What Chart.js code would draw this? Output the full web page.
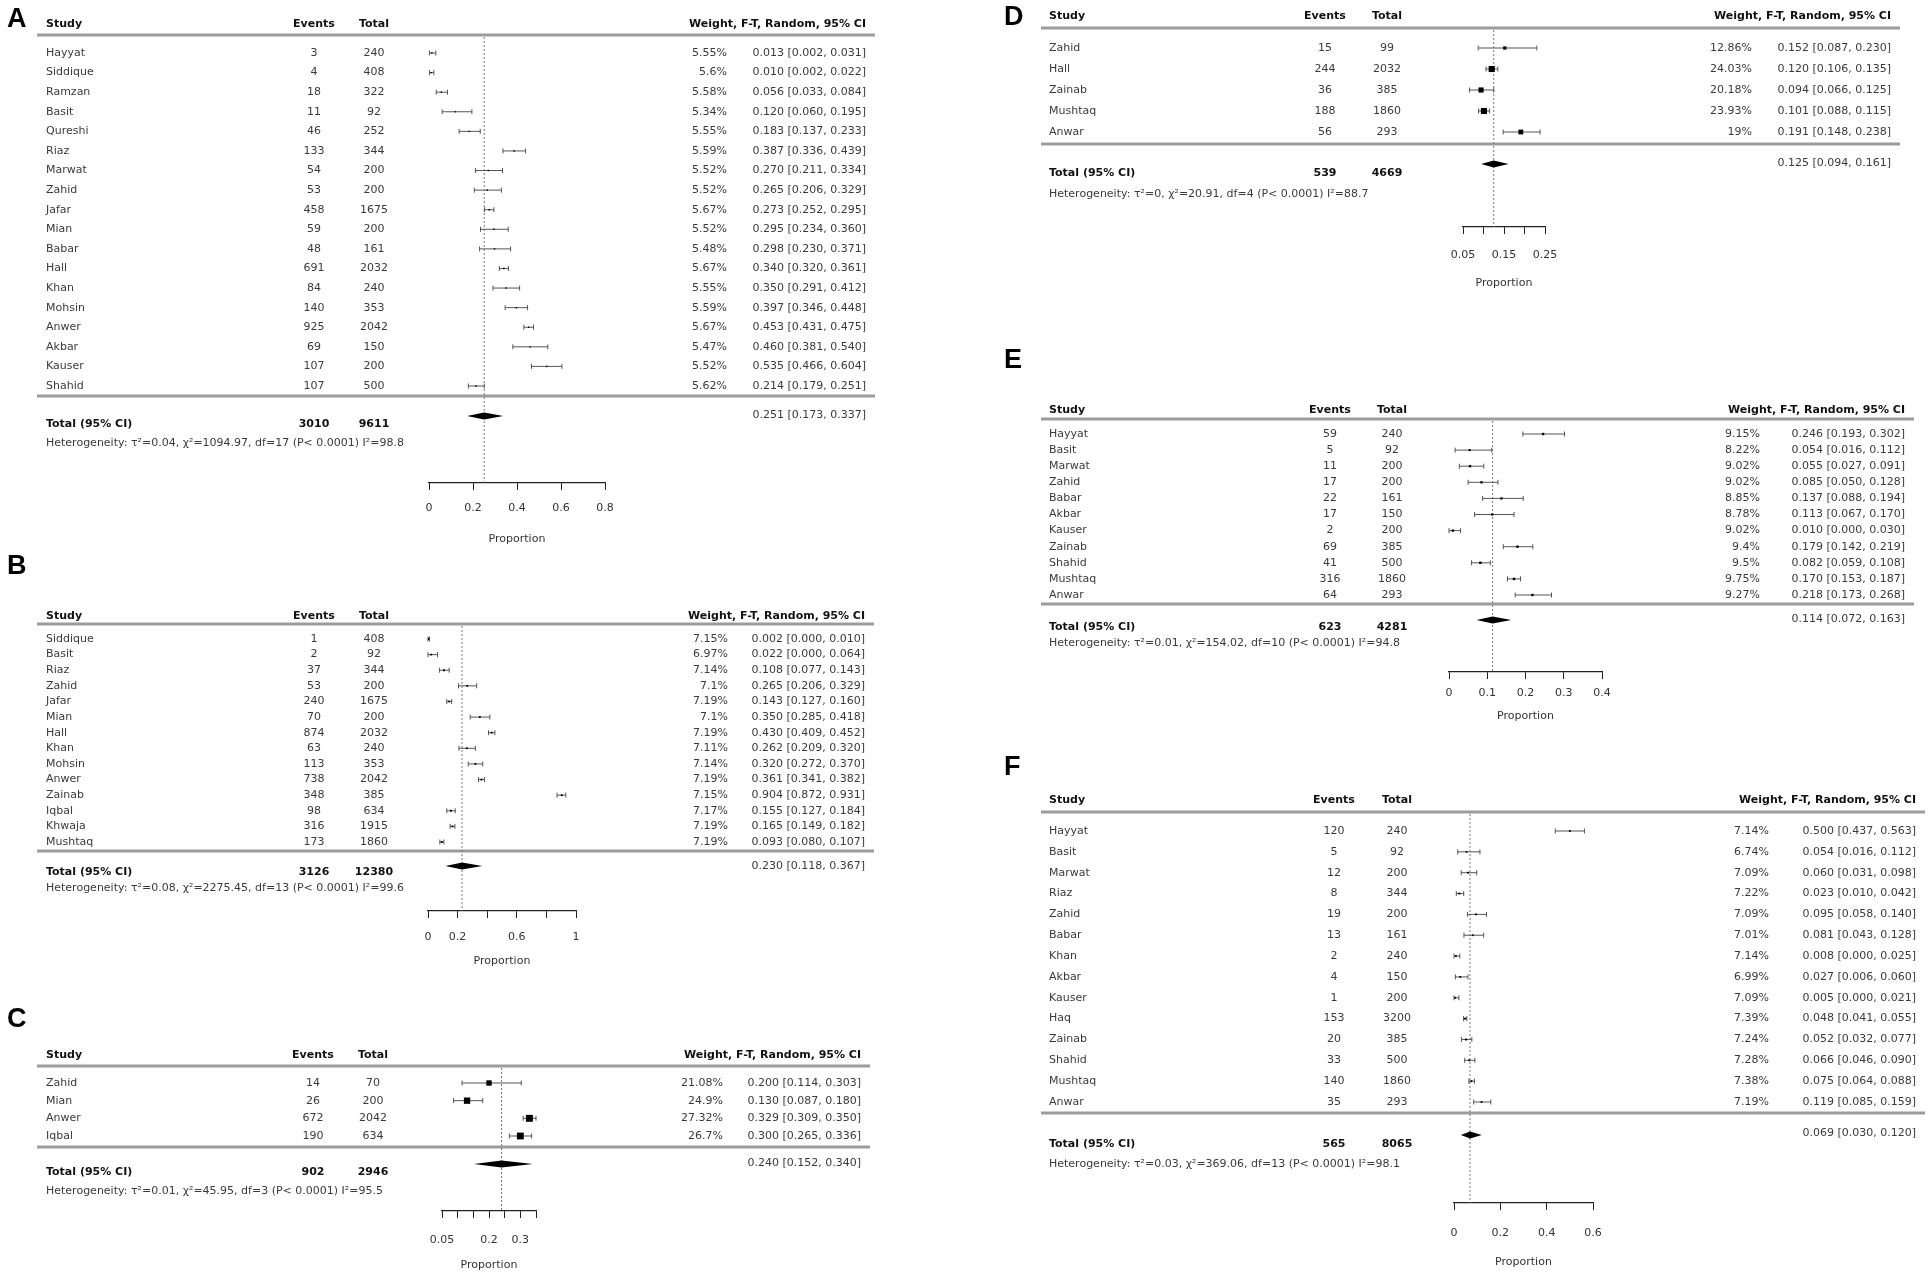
<!DOCTYPE html>
<html>
<head>
<meta charset="utf-8">
<script src="https://cdn.jsdelivr.net/npm/chart.js@4.4.1/dist/chart.umd.min.js"></script>
<style>
  html, body { margin: 0; padding: 0; background: #fff; }
  #page { position: relative; width: 1928px; height: 1281px; overflow: hidden; background: #fff; }
  #page canvas { position: absolute; }
</style>
</head>
<body>
<div id="page"></div>
<script>
// ---- A ----
const studiesA = ['Hayyat', 'Siddique', 'Ramzan', 'Basit', 'Qureshi', 'Riaz', 'Marwat', 'Zahid', 'Jafar', 'Mian', 'Babar', 'Hall', 'Khan', 'Mohsin', 'Anwer', 'Akbar', 'Kauser', 'Shahid'];
const eventsA = [3, 4, 18, 11, 46, 133, 54, 53, 458, 59, 48, 691, 84, 140, 925, 69, 107, 107];
const totalsA = [240, 408, 322, 92, 252, 344, 200, 200, 1675, 200, 161, 2032, 240, 353, 2042, 150, 200, 500];
const weightsA = [5.55, 5.6, 5.58, 5.34, 5.55, 5.59, 5.52, 5.52, 5.67, 5.52, 5.48, 5.67, 5.55, 5.59, 5.67, 5.47, 5.52, 5.62];
const estA = [0.013, 0.010, 0.056, 0.120, 0.183, 0.387, 0.270, 0.265, 0.273, 0.295, 0.298, 0.340, 0.350, 0.397, 0.453, 0.460, 0.535, 0.214];
const lowA = [0.002, 0.002, 0.033, 0.060, 0.137, 0.336, 0.211, 0.206, 0.252, 0.234, 0.230, 0.320, 0.291, 0.346, 0.431, 0.381, 0.466, 0.179];
const highA = [0.031, 0.022, 0.084, 0.195, 0.233, 0.439, 0.334, 0.329, 0.295, 0.360, 0.371, 0.361, 0.412, 0.448, 0.475, 0.540, 0.604, 0.251];
const pooledA = [0.251, 0.173, 0.337];
const sumsA = [3010, 9611];
const hetA = 'Heterogeneity: τ²=0.04, χ²=1094.97, df=17 (P< 0.0001) I²=98.8';
const ticksA = [0, 0.2, 0.4, 0.6, 0.8];
const tickTextA = ['0', '0.2', '0.4', '0.6', '0.8'];

// ---- B ----
const studiesB = ['Siddique', 'Basit', 'Riaz', 'Zahid', 'Jafar', 'Mian', 'Hall', 'Khan', 'Mohsin', 'Anwer', 'Zainab', 'Iqbal', 'Khwaja', 'Mushtaq'];
const eventsB = [1, 2, 37, 53, 240, 70, 874, 63, 113, 738, 348, 98, 316, 173];
const totalsB = [408, 92, 344, 200, 1675, 200, 2032, 240, 353, 2042, 385, 634, 1915, 1860];
const weightsB = [7.15, 6.97, 7.14, 7.1, 7.19, 7.1, 7.19, 7.11, 7.14, 7.19, 7.15, 7.17, 7.19, 7.19];
const estB = [0.002, 0.022, 0.108, 0.265, 0.143, 0.350, 0.430, 0.262, 0.320, 0.361, 0.904, 0.155, 0.165, 0.093];
const lowB = [0.000, 0.000, 0.077, 0.206, 0.127, 0.285, 0.409, 0.209, 0.272, 0.341, 0.872, 0.127, 0.149, 0.080];
const highB = [0.010, 0.064, 0.143, 0.329, 0.160, 0.418, 0.452, 0.320, 0.370, 0.382, 0.931, 0.184, 0.182, 0.107];
const pooledB = [0.230, 0.118, 0.367];
const sumsB = [3126, 12380];
const hetB = 'Heterogeneity: τ²=0.08, χ²=2275.45, df=13 (P< 0.0001) I²=99.6';
const ticksB = [0, 0.2, 0.4, 0.6, 0.8, 1];
const tickTextB = ['0', '0.2', '', '0.6', '', '1'];

// ---- C ----
const studiesC = ['Zahid', 'Mian', 'Anwer', 'Iqbal'];
const eventsC = [14, 26, 672, 190];
const totalsC = [70, 200, 2042, 634];
const weightsC = [21.08, 24.9, 27.32, 26.7];
const estC = [0.200, 0.130, 0.329, 0.300];
const lowC = [0.114, 0.087, 0.309, 0.265];
const highC = [0.303, 0.180, 0.350, 0.336];
const pooledC = [0.240, 0.152, 0.340];
const sumsC = [902, 2946];
const hetC = 'Heterogeneity: τ²=0.01, χ²=45.95, df=3 (P< 0.0001) I²=95.5';
const ticksC = [0.05, 0.1, 0.15, 0.2, 0.25, 0.3, 0.35];
const tickTextC = ['0.05', '', '', '0.2', '', '0.3', ''];

// ---- D ----
const studiesD = ['Zahid', 'Hall', 'Zainab', 'Mushtaq', 'Anwar'];
const eventsD = [15, 244, 36, 188, 56];
const totalsD = [99, 2032, 385, 1860, 293];
const weightsD = [12.86, 24.03, 20.18, 23.93, 19];
const estD = [0.152, 0.120, 0.094, 0.101, 0.191];
const lowD = [0.087, 0.106, 0.066, 0.088, 0.148];
const highD = [0.230, 0.135, 0.125, 0.115, 0.238];
const pooledD = [0.125, 0.094, 0.161];
const sumsD = [539, 4669];
const hetD = 'Heterogeneity: τ²=0, χ²=20.91, df=4 (P< 0.0001) I²=88.7';
const ticksD = [0.05, 0.1, 0.15, 0.2, 0.25];
const tickTextD = ['0.05', '', '0.15', '', '0.25'];

// ---- E ----
const studiesE = ['Hayyat', 'Basit', 'Marwat', 'Zahid', 'Babar', 'Akbar', 'Kauser', 'Zainab', 'Shahid', 'Mushtaq', 'Anwar'];
const eventsE = [59, 5, 11, 17, 22, 17, 2, 69, 41, 316, 64];
const totalsE = [240, 92, 200, 200, 161, 150, 200, 385, 500, 1860, 293];
const weightsE = [9.15, 8.22, 9.02, 9.02, 8.85, 8.78, 9.02, 9.4, 9.5, 9.75, 9.27];
const estE = [0.246, 0.054, 0.055, 0.085, 0.137, 0.113, 0.010, 0.179, 0.082, 0.170, 0.218];
const lowE = [0.193, 0.016, 0.027, 0.050, 0.088, 0.067, 0.000, 0.142, 0.059, 0.153, 0.173];
const highE = [0.302, 0.112, 0.091, 0.128, 0.194, 0.170, 0.030, 0.219, 0.108, 0.187, 0.268];
const pooledE = [0.114, 0.072, 0.163];
const sumsE = [623, 4281];
const hetE = 'Heterogeneity: τ²=0.01, χ²=154.02, df=10 (P< 0.0001) I²=94.8';
const ticksE = [0, 0.1, 0.2, 0.3, 0.4];
const tickTextE = ['0', '0.1', '0.2', '0.3', '0.4'];

// ---- F ----
const studiesF = ['Hayyat', 'Basit', 'Marwat', 'Riaz', 'Zahid', 'Babar', 'Khan', 'Akbar', 'Kauser', 'Haq', 'Zainab', 'Shahid', 'Mushtaq', 'Anwar'];
const eventsF = [120, 5, 12, 8, 19, 13, 2, 4, 1, 153, 20, 33, 140, 35];
const totalsF = [240, 92, 200, 344, 200, 161, 240, 150, 200, 3200, 385, 500, 1860, 293];
const weightsF = [7.14, 6.74, 7.09, 7.22, 7.09, 7.01, 7.14, 6.99, 7.09, 7.39, 7.24, 7.28, 7.38, 7.19];
const estF = [0.500, 0.054, 0.060, 0.023, 0.095, 0.081, 0.008, 0.027, 0.005, 0.048, 0.052, 0.066, 0.075, 0.119];
const lowF = [0.437, 0.016, 0.031, 0.010, 0.058, 0.043, 0.000, 0.006, 0.000, 0.041, 0.032, 0.046, 0.064, 0.085];
const highF = [0.563, 0.112, 0.098, 0.042, 0.140, 0.128, 0.025, 0.060, 0.021, 0.055, 0.077, 0.090, 0.088, 0.159];
const pooledF = [0.069, 0.030, 0.120];
const sumsF = [565, 8065];
const hetF = 'Heterogeneity: τ²=0.03, χ²=369.06, df=13 (P< 0.0001) I²=98.1';
const ticksF = [0, 0.2, 0.4, 0.6];
const tickTextF = ['0', '0.2', '0.4', '0.6'];

const FONT = '"DejaVu Sans", "Liberation Sans", sans-serif';
const page = document.getElementById('page');

// page geometry of each panel (pixels)
const layouts = {
  A: { box: [0, 0, 964, 560], letter: [7, 20], cols: [46, 314, 374, 727, 866, 37, 875],
       headText: 24, headLine: 35, row0: 53, rowLast: 386, botLine: 396, diamond: 416, totalText: 424, totalCi: 415,
       het: 443, axis: 483, lblOff: 26, ttlOff: 56, px: [429, 605] },
  B: { box: [0, 545, 964, 455], letter: [7, 567], cols: [46, 314, 374, 728, 865, 37, 874],
       headText: 616, headLine: 624, row0: 639, rowLast: 842, botLine: 851, diamond: 866, totalText: 872, totalCi: 866,
       het: 888, axis: 911, lblOff: 27, ttlOff: 50, px: [428, 576] },
  C: { box: [0, 1000, 964, 281], letter: [7, 1020], cols: [46, 313, 373, 723, 861, 37, 870],
       headText: 1055, headLine: 1066, row0: 1083, rowLast: 1136, botLine: 1147, diamond: 1164, totalText: 1172, totalCi: 1163,
       het: 1191, axis: 1211, lblOff: 30, ttlOff: 54, px: [442, 536] },
  D: { box: [964, 0, 964, 340], letter: [1004, 18], cols: [1049, 1325, 1387, 1752, 1891, 1041, 1900],
       headText: 16, headLine: 28, row0: 48, rowLast: 132, botLine: 144, diamond: 164, totalText: 173, totalCi: 163,
       het: 194, axis: 227, lblOff: 29, ttlOff: 56, px: [1463, 1545] },
  E: { box: [964, 340, 964, 400], letter: [1004, 361], cols: [1049, 1330, 1392, 1760, 1905, 1041, 1914],
       headText: 410, headLine: 419, row0: 434, rowLast: 595, botLine: 604, diamond: 620, totalText: 627, totalCi: 619,
       het: 643, axis: 672, lblOff: 22, ttlOff: 44, px: [1449, 1602] },
  F: { box: [964, 740, 964, 541], letter: [1004, 768], cols: [1049, 1334, 1397, 1769, 1916, 1041, 1925],
       headText: 800, headLine: 812, row0: 831, rowLast: 1102, botLine: 1113, diamond: 1135, totalText: 1144, totalCi: 1133,
       het: 1164, axis: 1203, lblOff: 31, ttlOff: 59, px: [1454, 1593] }
};

function forest(letter, d) {
  const g = layouts[letter];
  const [X0, Y0, W, H] = g.box;
  const [studyX, eventsX, totalX, weightR, ciR, lineL, lineR] = g.cols;
  const cv = document.createElement('canvas');
  cv.width = W; cv.height = H;
  cv.style.left = X0 + 'px'; cv.style.top = Y0 + 'px';
  page.appendChild(cv);

  const n = d.study.length;
  const step = (g.rowLast - g.row0) / (n - 1);
  const row = py => (py - g.row0) / step;
  const tickLen = 7;
  const axisH = g.ttlOff + 7;

  const forestPlugin = {
    id: 'forest' + letter,
    beforeDatasetsDraw(chart) {
      const { ctx, chartArea: ca, scales: { x, y } } = chart;
      ctx.save();
      // grey rules under the header and under the studies
      ctx.strokeStyle = '#9c9c9c';
      ctx.lineWidth = 3;
      [g.headLine, g.botLine].forEach(py => {
        const yy = y.getPixelForValue(row(py));
        ctx.beginPath(); ctx.moveTo(lineL - X0, yy); ctx.lineTo(lineR - X0, yy); ctx.stroke();
      });
      // dotted line at the pooled estimate
      const xs = x.getPixelForValue(d.pooled[0]);
      ctx.strokeStyle = '#777';
      ctx.lineWidth = 1;
      ctx.setLineDash([2, 2]);
      ctx.beginPath(); ctx.moveTo(xs, ca.top + 2); ctx.lineTo(xs, ca.bottom); ctx.stroke();
      ctx.setLineDash([]);
      // confidence intervals
      ctx.strokeStyle = '#555';
      d.est.forEach((v, i) => {
        const yy = y.getPixelForValue(i);
        const a = x.getPixelForValue(d.low[i]);
        const b = x.getPixelForValue(d.high[i]);
        ctx.beginPath();
        ctx.moveTo(a, yy); ctx.lineTo(b, yy);
        ctx.moveTo(a, yy - 2.5); ctx.lineTo(a, yy + 2.5);
        ctx.moveTo(b, yy - 2.5); ctx.lineTo(b, yy + 2.5);
        ctx.stroke();
      });
      // pooled diamond
      const yd = y.getPixelForValue(row(g.diamond));
      ctx.fillStyle = '#000';
      ctx.beginPath();
      ctx.moveTo(x.getPixelForValue(d.pooled[1]), yd);
      ctx.lineTo(xs, yd - 3.5);
      ctx.lineTo(x.getPixelForValue(d.pooled[2]), yd);
      ctx.lineTo(xs, yd + 3.5);
      ctx.closePath();
      ctx.fill();
      ctx.restore();
    },
    afterDraw(chart) {
      const { ctx, scales: { y } } = chart;
      const put = (s, px, yv, align, bold) => {
        ctx.font = (bold ? 'bold ' : '') + '11px ' + FONT;
        ctx.fillStyle = bold ? '#111' : '#3a3a3a';
        ctx.textAlign = align;
        ctx.fillText(s, px - X0, y.getPixelForValue(yv));
      };
      ctx.save();
      ctx.textBaseline = 'middle';
      ctx.font = 'bold 27px "Liberation Sans", Arial, sans-serif';
      ctx.fillStyle = '#000';
      ctx.textAlign = 'left';
      ctx.fillText(letter, g.letter[0] - X0, g.letter[1] - Y0);

      const hy = row(g.headText);
      put('Study', studyX, hy, 'left', true);
      put('Events', eventsX, hy, 'center', true);
      put('Total', totalX, hy, 'center', true);
      put('Weight, F-T, Random, 95% CI', ciR, hy, 'right', true);

      d.study.forEach((s, i) => {
        put(s, studyX, i, 'left', false);
        put(String(d.events[i]), eventsX, i, 'center', false);
        put(String(d.totals[i]), totalX, i, 'center', false);
        put(d.weight[i] + '%', weightR, i, 'right', false);
        put(d.est[i].toFixed(3) + ' [' + d.low[i].toFixed(3) + ', ' + d.high[i].toFixed(3) + ']', ciR, i, 'right', false);
      });

      const ty = row(g.totalText);
      put('Total (95% CI)', studyX, ty, 'left', true);
      put(String(d.sums[0]), eventsX, ty, 'center', true);
      put(String(d.sums[1]), totalX, ty, 'center', true);
      put(d.pooled[0].toFixed(3) + ' [' + d.pooled[1].toFixed(3) + ', ' + d.pooled[2].toFixed(3) + ']', ciR, row(g.totalCi), 'right', false);
      put(d.het, studyX, row(g.het), 'left', false);
      ctx.restore();
    }
  };

  return new Chart(cv, {
    type: 'scatter',
    data: {
      datasets: [{
        data: d.est.map((v, i) => ({ x: v, y: i })),
        pointStyle: 'rect',
        pointRadius: d.weight.map(w => Math.max(0.9, w * 0.18)),
        backgroundColor: '#000',
        borderColor: '#000',
        borderWidth: 0
      }]
    },
    options: {
      responsive: false,
      animation: false,
      events: [],
      layout: {
        padding: {
          left: g.px[0] - X0,
          right: X0 + W - g.px[1],
          top: g.headLine - Y0,
          bottom: Y0 + H - g.axis - axisH
        }
      },
      plugins: { legend: { display: false }, tooltip: { enabled: false } },
      scales: {
        x: {
          type: 'linear',
          min: d.ticks[0],
          max: d.ticks[d.ticks.length - 1],
          afterBuildTicks: s => { s.ticks = d.ticks.map(v => ({ value: v })); },
          afterFit: s => { s.height = axisH; },
          grid: { display: true, drawOnChartArea: false, drawTicks: true, tickLength: tickLen, color: '#222', lineWidth: 1 },
          border: { display: true, color: '#222', width: 1.2 },
          ticks: {
            autoSkip: false, maxRotation: 0, minRotation: 0,
            padding: g.lblOff - tickLen - 7,
            color: '#333',
            font: { family: FONT, size: 11 },
            callback: (v, i) => d.tickText[i]
          },
          title: { display: true, text: 'Proportion', color: '#333', font: { family: FONT, size: 11 }, padding: { top: 0, bottom: 0 } }
        },
        y: { type: 'linear', display: false, reverse: true, min: row(g.headLine), max: row(g.axis) }
      }
    },
    plugins: [forestPlugin]
  });
}

forest('A', { study: studiesA, events: eventsA, totals: totalsA, weight: weightsA, est: estA, low: lowA, high: highA, pooled: pooledA, sums: sumsA, het: hetA, ticks: ticksA, tickText: tickTextA });
forest('B', { study: studiesB, events: eventsB, totals: totalsB, weight: weightsB, est: estB, low: lowB, high: highB, pooled: pooledB, sums: sumsB, het: hetB, ticks: ticksB, tickText: tickTextB });
forest('C', { study: studiesC, events: eventsC, totals: totalsC, weight: weightsC, est: estC, low: lowC, high: highC, pooled: pooledC, sums: sumsC, het: hetC, ticks: ticksC, tickText: tickTextC });
forest('D', { study: studiesD, events: eventsD, totals: totalsD, weight: weightsD, est: estD, low: lowD, high: highD, pooled: pooledD, sums: sumsD, het: hetD, ticks: ticksD, tickText: tickTextD });
forest('E', { study: studiesE, events: eventsE, totals: totalsE, weight: weightsE, est: estE, low: lowE, high: highE, pooled: pooledE, sums: sumsE, het: hetE, ticks: ticksE, tickText: tickTextE });
forest('F', { study: studiesF, events: eventsF, totals: totalsF, weight: weightsF, est: estF, low: lowF, high: highF, pooled: pooledF, sums: sumsF, het: hetF, ticks: ticksF, tickText: tickTextF });
</script>
</body>
</html>
